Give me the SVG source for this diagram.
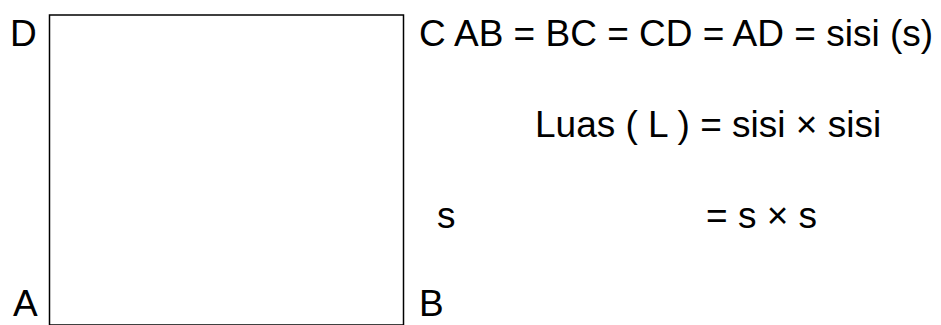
<svg xmlns="http://www.w3.org/2000/svg" width="941" height="325" viewBox="0 0 941 325">
<style>
text{font-family:"Liberation Sans","DejaVu Sans",sans-serif;font-size:37px;fill:#000}
.sq{fill:#fff;stroke:#000;stroke-width:1.5}
</style>
<rect width="941" height="325" fill="#fff"/>
<g id="square">
<rect class="sq" x="49.5" y="15" width="354" height="310"/>
</g>
<g id="labels">
<text x="10" y="46">D</text>
<text x="13" y="316">A</text>
<text x="419" y="316">B</text>
</g>
<g id="formulas">
<text x="419" y="46">C AB = BC = CD = AD = sisi (s)</text>
<text x="535" y="137">Luas ( L ) = sisi × sisi</text>
<text x="437" y="228">s</text>
<text x="706" y="228">= s × s</text>
</g>
</svg>
